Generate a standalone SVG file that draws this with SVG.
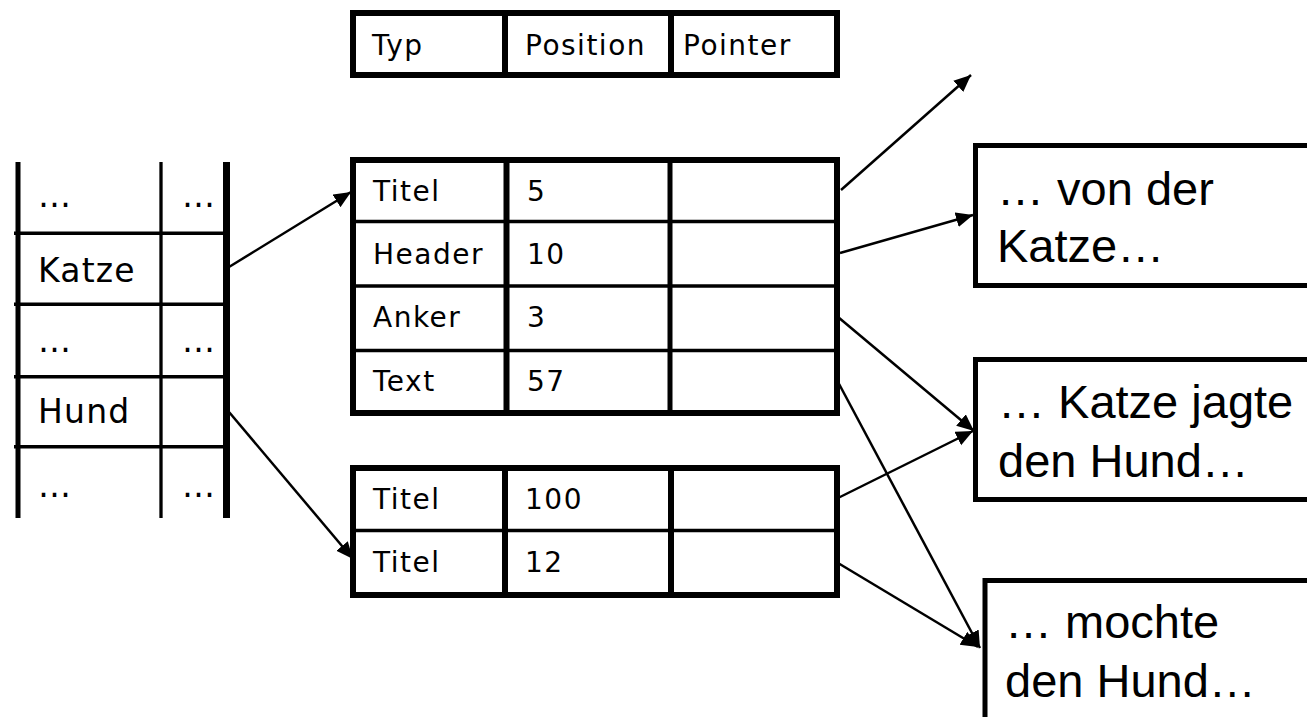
<svg xmlns="http://www.w3.org/2000/svg" width="1307" height="717" viewBox="0 0 1307 717">
  <style>
    .cell { font-family: "DejaVu Sans", Verdana, sans-serif; font-size: 28px; letter-spacing: 1.5px; fill: #000; }
    .word { font-family: "DejaVu Sans", Verdana, sans-serif; font-size: 33px; letter-spacing: 1.2px; fill: #000; }
    .doc { font-family: "Liberation Sans", Arial, sans-serif; font-size: 47px; fill: #000; }
    .frame { fill: #fff; stroke: #000; stroke-width: 6; }
    .box { fill: #fff; stroke: #000; stroke-width: 5; }
    .thin { stroke: #000; stroke-width: 3.5; }
    .thick { stroke: #000; stroke-width: 6; }
    .link { stroke: #000; stroke-width: 2.5; fill: none; marker-end: url(#head); }
  </style>
  <defs>
    <marker id="head" markerUnits="userSpaceOnUse" markerWidth="18" markerHeight="16" refX="17" refY="7.5" orient="auto">
      <path d="M0,0 L17,7.5 L0,15 z" fill="#000"/>
    </marker>
  </defs>
  <rect width="1307" height="717" fill="#fff"/>

  <!-- header row of the posting table -->
  <g id="legend">
    <rect class="frame" x="353" y="13" width="484" height="62"/>
    <line class="thick" x1="505" y1="13" x2="505" y2="75"/>
    <line class="thick" x1="671" y1="13" x2="671" y2="75"/>
    <text class="cell" x="372" y="55">Typ</text>
    <text class="cell" x="525" y="55">Position</text>
    <text class="cell" x="683" y="55">Pointer</text>
  </g>

  <!-- dictionary -->
  <g id="dictionary">
    <line x1="18" y1="162" x2="18" y2="518" stroke="#000" stroke-width="5"/>
    <line x1="161" y1="162" x2="161" y2="518" stroke="#000" stroke-width="3.3"/>
    <line x1="226.5" y1="162" x2="226.5" y2="518" stroke="#000" stroke-width="7"/>
    <line class="thin" x1="14" y1="233.3" x2="223" y2="233.3"/>
    <line class="thin" x1="14" y1="304.3" x2="223" y2="304.3"/>
    <line class="thin" x1="14" y1="376.7" x2="223" y2="376.7"/>
    <line class="thin" x1="14" y1="446.7" x2="223" y2="446.7"/>
    <text class="word" x="38" y="207">…</text>
    <text class="word" x="182" y="207">…</text>
    <text class="word" x="38" y="282">Katze</text>
    <text class="word" x="38" y="352">…</text>
    <text class="word" x="182" y="352">…</text>
    <text class="word" x="38" y="423">Hund</text>
    <text class="word" x="38" y="497">…</text>
    <text class="word" x="182" y="497">…</text>
  </g>

  <!-- postings for "Katze" -->
  <g id="postings-katze">
    <rect class="frame" x="353" y="160" width="484" height="253"/>
    <line class="thin" x1="353" y1="221.5" x2="837" y2="221.5"/>
    <line class="thin" x1="353" y1="286" x2="837" y2="286"/>
    <line class="thin" x1="353" y1="350.5" x2="837" y2="350.5"/>
    <line class="thick" x1="506.5" y1="160" x2="506.5" y2="413"/>
    <line x1="670" y1="160" x2="670" y2="413" stroke="#000" stroke-width="5"/>
    <text class="cell" x="373" y="201">Titel</text>
    <text class="cell" x="527" y="201">5</text>
    <text class="cell" x="373" y="264">Header</text>
    <text class="cell" x="527" y="264">10</text>
    <text class="cell" x="373" y="327">Anker</text>
    <text class="cell" x="527" y="327">3</text>
    <text class="cell" x="373" y="391">Text</text>
    <text class="cell" x="527" y="391">57</text>
  </g>

  <!-- postings for "Hund" -->
  <g id="postings-hund">
    <rect class="frame" x="353" y="468" width="484" height="127"/>
    <line class="thin" x1="353" y1="530.5" x2="837" y2="530.5"/>
    <line class="thick" x1="505" y1="468" x2="505" y2="595"/>
    <line class="thick" x1="671" y1="468" x2="671" y2="595"/>
    <text class="cell" x="373" y="509">Titel</text>
    <text class="cell" x="525" y="509">100</text>
    <text class="cell" x="373" y="572">Titel</text>
    <text class="cell" x="525" y="572">12</text>
  </g>

  <!-- document excerpts -->
  <g id="doc-1">
    <rect class="box" x="975.5" y="145.5" width="400" height="140"/>
    <text class="doc" x="997" y="205">… von der</text>
    <text class="doc" x="997" y="262">Katze…</text>
  </g>
  <g id="doc-2">
    <rect class="box" x="975.5" y="359.5" width="400" height="140"/>
    <text class="doc" x="998" y="418">… Katze jagte</text>
    <text class="doc" x="998" y="477">den Hund…</text>
  </g>
  <g id="doc-3">
    <rect class="box" x="985" y="580.5" width="400" height="200"/>
    <text class="doc" x="1005" y="638">… mochte</text>
    <text class="doc" x="1005" y="697">den Hund…</text>
  </g>

  <!-- pointers -->
  <g id="connectors">
    <line class="link" x1="229" y1="267" x2="351" y2="192"/>
    <line class="link" x1="229" y1="412" x2="353" y2="559"/>
    <line class="link" x1="841" y1="190" x2="971" y2="75"/>
    <line class="link" x1="840" y1="253" x2="973" y2="215"/>
    <line class="link" x1="838" y1="317" x2="974" y2="431"/>
    <line class="link" x1="838" y1="382" x2="980" y2="648"/>
    <line class="link" x1="838" y1="498" x2="973" y2="431"/>
    <line class="link" x1="838" y1="563" x2="978" y2="647"/>
  </g>
</svg>
